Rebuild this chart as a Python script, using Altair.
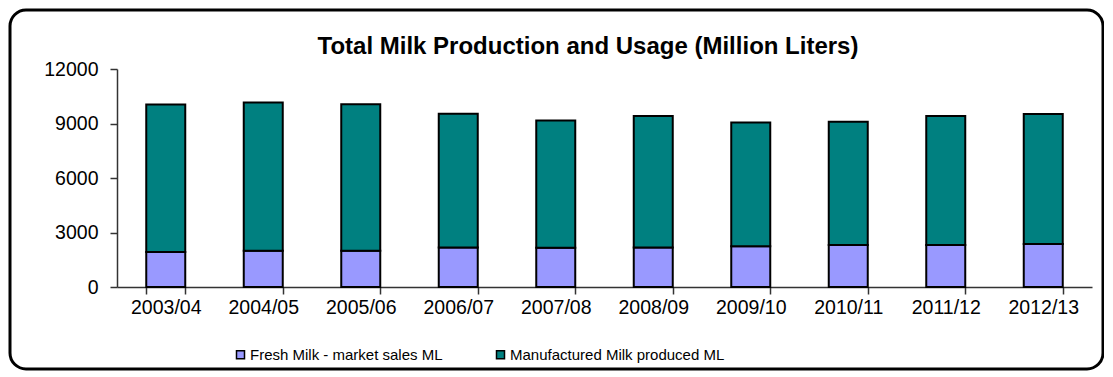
import altair as alt
import pandas as pd

years = ["2003/04", "2004/05", "2005/06", "2006/07", "2007/08",
         "2008/09", "2009/10", "2010/11", "2011/12", "2012/13"]
fresh = [1930, 2000, 2000, 2170, 2160, 2170, 2240, 2310, 2310, 2370]
totals = [10050, 10150, 10060, 9540, 9170, 9410, 9050, 9100, 9410, 9520]
manufactured = [t - f for t, f in zip(totals, fresh)]
series = ["Fresh Milk - market sales ML", "Manufactured Milk produced  ML"]
colors = ["#9999FF", "#008080"]
title = "Total Milk Production and Usage (Million Liters)"

rows = []
for y, f, m in zip(years, fresh, manufactured):
    rows.append({"year": y, "series": series[0], "value": f, "ord": 0})
    rows.append({"year": y, "series": series[1], "value": m, "ord": 1})
df = pd.DataFrame(rows)

W, H = 975, 218
FONT = "Liberation Sans, Arial, sans-serif"

bars = alt.Chart(df).mark_bar(stroke="black", strokeWidth=2).encode(
    x=alt.X("year:N", sort=years, title=None,
            scale=alt.Scale(paddingInner=0.6, paddingOuter=0.3),
            axis=alt.Axis(labelAngle=0, labelFontSize=19.5, labelFont=FONT,
                          labelColor="black", tickBand="extent", tickSize=7,
                          labelPadding=4, domainColor="#333", tickColor="#333",
                          domainWidth=1.5, tickWidth=1.5)),
    y=alt.Y("value:Q", stack="zero", title=None,
            scale=alt.Scale(domain=[0, 12000], nice=False),
            axis=alt.Axis(values=[0, 3000, 6000, 9000, 12000], format="d",
                          labelFontSize=19.5, labelFont=FONT, labelColor="black",
                          grid=False, tickSize=7, labelPadding=12,
                          domainColor="#333", tickColor="#333", domainWidth=1.5,
                          tickWidth=1.5)),
    color=alt.Color("series:N", scale=alt.Scale(domain=series, range=colors),
                    legend=alt.Legend(title=None, orient="none", direction="horizontal",
                                      legendX=116, legendY=278, symbolType="square",
                                      symbolSize=64, symbolStrokeColor="black",
                                      symbolStrokeWidth=1.5, labelFontSize=15,
                                      labelFont=FONT, labelColor="black", labelLimit=400,
                                      columnPadding=50, labelOffset=2)),
    order=alt.Order("ord:Q"),
)

title_mark = alt.Chart(alt.Data(values=[{"t": title}])).mark_text(
    font=FONT, fontSize=24, fontWeight="bold", color="black",
    align="center", baseline="middle"
).encode(x=alt.value(471), y=alt.value(-22), text="t:N")

border = alt.Chart(alt.Data(values=[{}])).mark_rect(
    fill=None, stroke="black", strokeWidth=3, cornerRadius=16, clip=False
).encode(
    x=alt.value(-107), x2=alt.value(986), y=alt.value(-59), y2=alt.value(300)
)

chart = alt.layer(bars, title_mark, border).properties(
    width=W, height=H,
    autosize=alt.AutoSizeParams(type="none"),
    padding={"left": 109, "top": 61, "right": 12, "bottom": 84},
).configure_view(stroke=None)

chart.save("out.html", embed_options={"renderer": "svg", "actions": False})
